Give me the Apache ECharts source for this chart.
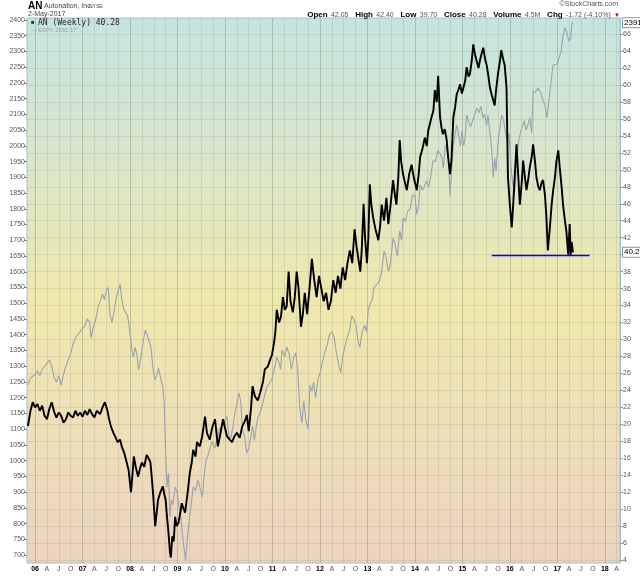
<!DOCTYPE html>
<html><head><meta charset="utf-8">
<script src="https://cdn.jsdelivr.net/npm/echarts@6/dist/echarts.min.js"></script>
<style>html,body{margin:0;padding:0;background:#fff}#c{width:640px;height:576px}</style>
</head><body><div id="c"></div>
<script>
// ---- data (decimal years) ----
const anDates = [2005.85,2005.90,2005.95,2006.00,2006.05,2006.10,2006.15,2006.20,2006.25,2006.30,2006.35,2006.40,2006.45,2006.50,2006.55,2006.60,2006.65,2006.70,2006.75,2006.80,2006.85,2006.90,2006.95,2007.00,2007.05,2007.10,2007.15,2007.20,2007.25,2007.30,2007.37,2007.42,2007.47,2007.52,2007.56,2007.60,2007.65,2007.70,2007.74,2007.79,2007.83,2007.88,2007.93,2007.97,2008.02,2008.05,2008.08,2008.12,2008.17,2008.21,2008.25,2008.30,2008.35,2008.39,2008.43,2008.46,2008.49,2008.53,2008.56,2008.59,2008.64,2008.69,2008.72,2008.75,2008.78,2008.81,2008.84,2008.86,2008.89,2008.92,2008.95,2008.98,2009.02,2009.06,2009.09,2009.13,2009.16,2009.21,2009.26,2009.30,2009.33,2009.38,2009.41,2009.47,2009.52,2009.58,2009.62,2009.68,2009.73,2009.79,2009.85,2009.90,2009.96,2010.04,2010.10,2010.15,2010.20,2010.25,2010.31,2010.36,2010.42,2010.46,2010.50,2010.55,2010.58,2010.63,2010.69,2010.74,2010.80,2010.84,2010.90,2010.95,2010.99,2011.03,2011.06,2011.09,2011.14,2011.18,2011.22,2011.26,2011.30,2011.34,2011.38,2011.43,2011.47,2011.51,2011.55,2011.60,2011.64,2011.68,2011.73,2011.78,2011.83,2011.88,2011.93,2011.98,2012.03,2012.08,2012.13,2012.18,2012.23,2012.28,2012.33,2012.38,2012.43,2012.48,2012.53,2012.58,2012.63,2012.68,2012.73,2012.77,2012.81,2012.85,2012.88,2012.92,2012.95,2012.99,2013.02,2013.05,2013.08,2013.12,2013.17,2013.23,2013.27,2013.30,2013.35,2013.40,2013.44,2013.49,2013.54,2013.58,2013.61,2013.65,2013.68,2013.71,2013.75,2013.79,2013.83,2013.88,2013.93,2013.98,2014.04,2014.08,2014.11,2014.16,2014.21,2014.25,2014.28,2014.32,2014.35,2014.39,2014.42,2014.46,2014.49,2014.53,2014.56,2014.59,2014.63,2014.67,2014.70,2014.74,2014.77,2014.81,2014.85,2014.88,2014.92,2014.95,2014.99,2015.02,2015.06,2015.09,2015.13,2015.16,2015.20,2015.23,2015.27,2015.30,2015.34,2015.37,2015.41,2015.44,2015.48,2015.51,2015.55,2015.58,2015.62,2015.65,2015.68,2015.71,2015.75,2015.79,2015.82,2015.86,2015.89,2015.93,2015.96,2016.00,2016.04,2016.07,2016.11,2016.14,2016.18,2016.21,2016.25,2016.28,2016.32,2016.35,2016.39,2016.42,2016.46,2016.49,2016.53,2016.56,2016.60,2016.63,2016.67,2016.70,2016.74,2016.77,2016.80,2016.84,2016.88,2016.91,2016.95,2016.98,2017.02,2017.05,2017.09,2017.12,2017.16,2017.19,2017.23,2017.26,2017.28,2017.30,2017.33];
const anClose = [19.8,21.5,22.6,22.0,22.4,21.6,22.2,21.0,20.6,21.8,22.6,21.5,20.8,21.4,21.0,20.2,20.6,21.4,21.0,20.8,21.6,21.0,21.4,20.9,21.6,21.1,21.8,21.2,20.8,21.6,21.2,22.0,22.6,21.7,20.6,19.7,19.0,18.4,17.9,18.2,17.3,16.6,15.5,14.6,12.0,14.0,16.2,15.0,13.8,14.8,15.5,15.0,16.4,16.0,15.5,13.6,11.5,8.0,9.5,11.1,12.0,12.7,11.8,11.1,9.0,7.2,5.0,4.3,6.8,6.2,9.1,8.0,8.4,9.6,10.7,10.0,9.6,11.8,14.3,15.5,17.0,16.2,17.9,17.4,18.6,20.9,19.0,18.2,19.6,20.6,17.4,18.8,20.6,18.6,18.2,17.9,18.6,19.0,18.4,19.7,20.4,21.1,19.2,22.0,24.5,23.3,22.8,23.7,25.0,26.5,26.8,27.6,28.2,29.5,30.8,33.5,32.0,32.7,35.0,33.5,33.9,38.0,34.5,33.2,35.0,38.0,36.0,31.5,33.0,35.5,33.0,36.0,39.5,37.0,35.0,37.5,36.0,34.5,35.5,33.5,34.5,37.0,35.5,37.5,36.0,38.5,37.0,39.0,40.5,39.0,43.0,41.0,39.5,38.0,40.5,46.0,42.0,39.0,42.0,48.3,46.0,44.4,43.0,41.7,43.5,45.9,44.0,46.7,43.6,46.0,48.8,47.0,45.9,49.0,53.5,51.0,49.5,48.5,47.6,49.5,50.6,49.0,47.6,49.5,51.5,52.5,53.8,52.8,54.6,55.5,56.2,57.0,59.4,58.0,61.1,56.2,55.0,54.2,54.8,53.5,51.5,49.5,51.1,56.2,57.5,58.9,59.5,60.1,59.0,58.9,60.5,62.1,61.0,61.3,63.0,64.8,63.5,63.6,62.0,62.9,63.8,64.4,63.0,62.4,61.0,59.7,58.8,58.2,57.6,59.4,61.3,62.8,64.1,63.0,62.4,59.7,49.1,45.9,43.2,45.9,50.0,53.0,49.0,45.9,48.5,51.1,49.0,47.6,49.0,50.3,51.5,53.0,51.0,49.1,48.0,47.6,48.5,48.8,47.0,44.4,40.5,43.0,45.9,47.5,49.1,51.0,52.3,50.3,48.0,45.9,44.0,42.8,40.0,43.6,39.9,41.5,40.28];

const spxDates = [2005.85,2005.90,2005.95,2006.00,2006.05,2006.10,2006.15,2006.20,2006.25,2006.30,2006.35,2006.40,2006.45,2006.50,2006.55,2006.60,2006.65,2006.70,2006.75,2006.80,2006.85,2006.90,2006.95,2007.00,2007.05,2007.10,2007.15,2007.18,2007.22,2007.28,2007.33,2007.38,2007.42,2007.46,2007.50,2007.54,2007.58,2007.62,2007.66,2007.70,2007.75,2007.79,2007.83,2007.87,2007.91,2007.95,2008.00,2008.04,2008.07,2008.11,2008.15,2008.18,2008.22,2008.28,2008.32,2008.36,2008.40,2008.44,2008.48,2008.52,2008.56,2008.60,2008.64,2008.69,2008.72,2008.75,2008.78,2008.81,2008.84,2008.87,2008.90,2008.95,2008.99,2009.03,2009.07,2009.10,2009.14,2009.17,2009.20,2009.23,2009.28,2009.33,2009.38,2009.43,2009.48,2009.52,2009.56,2009.60,2009.65,2009.69,2009.73,2009.78,2009.83,2009.88,2009.94,2009.98,2010.04,2010.08,2010.12,2010.17,2010.21,2010.25,2010.29,2010.33,2010.37,2010.41,2010.46,2010.50,2010.54,2010.58,2010.62,2010.66,2010.70,2010.74,2010.79,2010.84,2010.88,2010.93,2010.99,2011.04,2011.09,2011.13,2011.17,2011.20,2011.26,2011.30,2011.35,2011.40,2011.45,2011.49,2011.53,2011.58,2011.62,2011.66,2011.70,2011.75,2011.79,2011.83,2011.87,2011.91,2011.96,2012.00,2012.05,2012.10,2012.15,2012.20,2012.25,2012.30,2012.35,2012.40,2012.44,2012.48,2012.52,2012.57,2012.62,2012.67,2012.71,2012.76,2012.80,2012.84,2012.89,2012.94,2012.98,2013.02,2013.06,2013.10,2013.14,2013.20,2013.25,2013.30,2013.35,2013.40,2013.44,2013.48,2013.54,2013.58,2013.63,2013.68,2013.72,2013.75,2013.80,2013.85,2013.90,2013.95,2014.00,2014.04,2014.08,2014.11,2014.16,2014.21,2014.25,2014.29,2014.33,2014.38,2014.43,2014.48,2014.53,2014.57,2014.60,2014.64,2014.67,2014.71,2014.74,2014.78,2014.81,2014.85,2014.88,2014.92,2014.96,2014.99,2015.03,2015.06,2015.09,2015.13,2015.17,2015.20,2015.24,2015.28,2015.31,2015.35,2015.39,2015.43,2015.47,2015.51,2015.54,2015.58,2015.62,2015.65,2015.68,2015.71,2015.75,2015.79,2015.83,2015.87,2015.91,2015.95,2015.98,2016.02,2016.06,2016.10,2016.14,2016.18,2016.22,2016.26,2016.30,2016.34,2016.38,2016.42,2016.46,2016.49,2016.54,2016.59,2016.63,2016.67,2016.70,2016.74,2016.78,2016.82,2016.86,2016.91,2016.95,2017.00,2017.04,2017.08,2017.12,2017.16,2017.20,2017.24,2017.28,2017.31,2017.33];
const spxClose = [1240,1262,1268,1272,1285,1270,1290,1300,1310,1320,1300,1265,1250,1270,1240,1275,1300,1320,1340,1370,1390,1400,1410,1420,1430,1450,1440,1390,1420,1450,1490,1510,1530,1510,1540,1550,1460,1440,1470,1510,1540,1560,1510,1480,1470,1460,1405,1350,1329,1360,1330,1288,1320,1380,1415,1400,1380,1361,1300,1256,1270,1294,1265,1234,1180,1024,916,960,821,875,860,916,900,853,820,770,720,684,740,789,850,916,905,938,910,884,950,1002,1020,1043,1060,1040,1065,1100,1110,1115,1140,1080,1070,1110,1151,1180,1215,1190,1097,1080,1024,1040,1070,1110,1065,1110,1140,1151,1180,1210,1234,1245,1260,1290,1329,1315,1290,1351,1330,1361,1340,1290,1330,1342,1290,1161,1120,1190,1130,1100,1240,1220,1250,1200,1260,1277,1310,1345,1365,1400,1410,1390,1340,1300,1280,1330,1360,1390,1410,1460,1450,1430,1380,1360,1410,1430,1410,1480,1500,1510,1550,1560,1570,1600,1666,1640,1602,1620,1707,1690,1650,1730,1700,1771,1760,1793,1800,1844,1840,1782,1812,1876,1860,1875,1888,1870,1900,1952,1950,1984,1975,1962,1930,2000,1990,1960,1840,1940,2003,2040,2066,2070,2000,2047,2000,2030,2098,2100,2060,2057,2090,2110,2120,2105,2125,2089,2100,2065,2098,2100,1984,1900,1962,1920,2010,2057,2098,2080,2040,2010,2040,1940,1880,1850,1940,2010,2040,2060,2080,2050,2066,2089,2040,2174,2170,2184,2175,2160,2143,2130,2089,2140,2194,2257,2260,2260,2280,2301,2350,2375,2360,2333,2340,2390,2391.17];

const supportDates = [2015.62, 2017.68];
const supportLevel = [39.9, 39.9];

const spxTicks = []; for (let v = 700; v <= 2400; v += 50) spxTicks.push(v);
const anTicks = []; for (let v = 4; v <= 66; v += 2) anTicks.push(v);
const quarterTicks = []; for (let q = 2006 * 4; q <= 2018 * 4 + 1; q++) quarterTicks.push(q / 4);
const yearTicks = []; for (let y = 2006; y <= 2018; y++) yearTicks.push(y);
const monthLetters = ['', 'A', 'J', 'O'];

const header = {
  ticker: 'AN', name: 'Autonation, Inc.', exch: 'NYSE', date: '2-May-2017',
  open: '42.05', high: '42.40', low: '39.70', close: '40.28', volume: '4.5M', chg: '-1.72 (-4.10%)'
};

const anPairs = anDates.map((d, i) => [d, anClose[i]]);
const spxPairs = spxDates.map((d, i) => [d, spxClose[i]]);
const supportPairs = supportDates.map((d, i) => [d, supportLevel[i]]);
const anLast = anClose[anClose.length - 1];
const spxLast = spxClose[spxClose.length - 1];

const FONT = 'Liberation Sans';
const chart = echarts.init(document.getElementById('c'), null, { renderer: 'canvas' });

const tagLabel = {
  show: true, position: 'end', distance: 3, fontFamily: FONT, fontSize: 8, color: '#000',
  backgroundColor: '#fff', borderColor: '#7a9ab0', borderWidth: 1, padding: [1, 1, 0, 1]
};

chart.setOption({
  animation: false,
  backgroundColor: '#fff',
  textStyle: { fontFamily: FONT },
  grid: {
    left: 27, right: 20, top: 18, bottom: 13, show: true,
    borderColor: '#a9bccb', borderWidth: 1,
    backgroundColor: {
      type: 'linear', x: 0, y: 0, x2: 0, y2: 1,
      colorStops: [
        { offset: 0, color: '#c5e4e0' },
        { offset: 0.25, color: '#d9e6cc' },
        { offset: 0.52, color: '#f0e8ac' },
        { offset: 0.75, color: '#eedfb8' },
        { offset: 1, color: '#ecd3bf' }
      ]
    }
  },
  xAxis: [{
    type: 'value', min: 2005.83, max: 2018.32,
    axisLine: { show: false },
    axisTick: { show: false, customValues: quarterTicks },
    splitLine: { show: true, lineStyle: { color: 'rgba(140,150,130,0.22)', width: 1 } },
    axisLabel: {
      customValues: quarterTicks, fontSize: 7, color: '#555', margin: 3,
      formatter: function (v) {
        const q = Math.round(v * 4) % 4;
        if (q === 0) return '{y|' + String(Math.round(v)).slice(2) + '}';
        return monthLetters[q];
      },
      rich: { y: { fontSize: 7, fontWeight: 'bold', color: '#000', fontFamily: FONT } }
    }
  }, {
    type: 'value', min: 2005.83, max: 2018.32, position: 'bottom',
    axisLine: { show: false }, axisLabel: { show: false },
    axisTick: { show: false, customValues: yearTicks },
    splitLine: { show: true, lineStyle: { color: 'rgba(130,140,110,0.28)', width: 1 } }
  }],
  yAxis: [{
    type: 'value', position: 'left', min: 675, max: 2406,
    axisLine: { show: false },
    axisTick: { show: true, customValues: spxTicks, length: 3, lineStyle: { color: '#888' } },
    splitLine: { show: false },
    axisLabel: { customValues: spxTicks, fontSize: 7, color: '#555', margin: 2, formatter: function (v) { return String(v); } }
  }, {
    type: 'value', position: 'right', min: 3.65, max: 67.9,
    axisLine: { show: true, lineStyle: { color: '#a9bccb' } },
    axisTick: { show: true, customValues: anTicks, length: 3, lineStyle: { color: '#999' } },
    splitLine: { show: true, lineStyle: { color: 'rgba(140,150,130,0.22)', width: 1 } },
    axisLabel: { customValues: anTicks, fontSize: 7, color: '#555', margin: 3, formatter: function (v) { return String(v); } }
  }],
  series: [{
    name: '$SPX', type: 'line', xAxisIndex: 0, yAxisIndex: 0, data: spxPairs,
    showSymbol: false, symbol: 'none', lineStyle: { color: '#9aa3ad', width: 1.1 },
    markLine: {
      silent: true, symbol: 'none', lineStyle: { color: 'rgba(0,0,0,0)', width: 0 },
      label: Object.assign({}, tagLabel, { formatter: String(spxLast) }),
      data: [{ yAxis: spxLast }]
    }
  }, {
    name: 'AN', type: 'line', xAxisIndex: 0, yAxisIndex: 1, data: anPairs,
    showSymbol: false, symbol: 'none', lineStyle: { color: '#000', width: 1.9 },
    markLine: {
      silent: true, symbol: 'none', lineStyle: { color: 'rgba(0,0,0,0)', width: 0 },
      label: Object.assign({}, tagLabel, { formatter: anLast.toFixed(2) }),
      data: [{ yAxis: anLast }]
    }
  }, {
    name: 'support', type: 'line', xAxisIndex: 0, yAxisIndex: 1, data: supportPairs,
    showSymbol: false, symbol: 'none', lineStyle: { color: '#0000ff', width: 1.5 }
  }],
  graphic: [
    { type: 'text', left: 28, top: 1, style: { text: header.ticker, font: 'bold 10px ' + FONT, fill: '#000' } },
    { type: 'text', left: 44, top: 3, style: { text: header.name, font: '7px ' + FONT, fill: '#444' } },
    { type: 'text', left: 89, top: 4, style: { text: header.exch, font: '5px ' + FONT, fill: '#444' } },
    { type: 'text', left: 28, top: 11, style: { text: header.date, font: '7px ' + FONT, fill: '#444' } },
    { type: 'text', right: 22, top: 1, style: { text: '\u00a9StockCharts.com', font: '7px ' + FONT, fill: '#555' } },
    { type: 'text', right: 20, top: 9, style: {
        text: '{b|Open} {v|' + header.open + '}  {b|High} {v|' + header.high + '}  {b|Low} {v|' + header.low +
          '}  {b|Close} {v|' + header.close + '}  {b|Volume} {v|' + header.volume + '}  {b|Chg} {v|' + header.chg + '} {r|\u25bc}',
        rich: {
          b: { font: 'bold 8px ' + FONT, fill: '#000' },
          v: { font: '7px ' + FONT, fill: '#555' },
          r: { font: '6px ' + FONT, fill: '#d00000' }
        }
      } },
    { type: 'text', left: 31, top: 19, style: { text: '\u25a0', font: '6px ' + FONT, fill: '#333' } },
    { type: 'text', left: 38, top: 19, style: { text: 'AN (Weekly) ' + anLast.toFixed(2), font: '8px "DejaVu Sans Mono"', fill: '#222' } },
    { type: 'text', left: 31, top: 27, style: { text: '\u2014', font: '6px ' + FONT, fill: '#9aa3ad' } },
    { type: 'text', left: 38, top: 27, style: { text: '$SPX ' + spxLast.toFixed(2), font: '6px ' + FONT, fill: '#9aa3ad' } }
  ]
});
</script>
</body></html>
